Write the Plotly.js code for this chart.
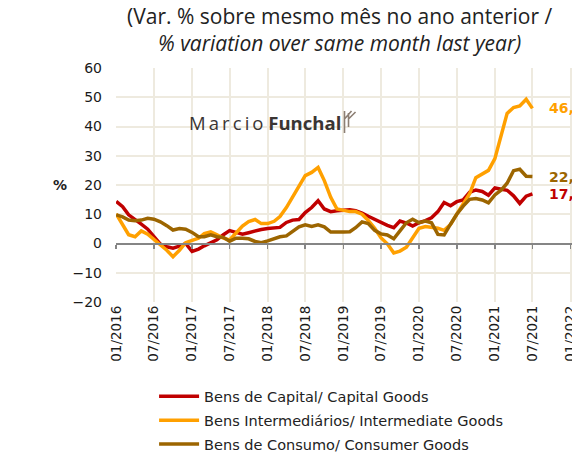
<!DOCTYPE html>
<html>
<head>
<meta charset="utf-8">
<script src="https://cdn.plot.ly/plotly-3.0.1.min.js"></script>
<style>html,body{margin:0;padding:0;background:#fff;}#chart{width:572px;height:453px;}</style>
</head>
<body>
<div id="chart"></div>
<script>
const months = [
"2016-01-01","2016-02-01","2016-03-01","2016-04-01","2016-05-01","2016-06-01","2016-07-01","2016-08-01","2016-09-01","2016-10-01","2016-11-01","2016-12-01",
"2017-01-01","2017-02-01","2017-03-01","2017-04-01","2017-05-01","2017-06-01","2017-07-01","2017-08-01","2017-09-01","2017-10-01","2017-11-01","2017-12-01",
"2018-01-01","2018-02-01","2018-03-01","2018-04-01","2018-05-01","2018-06-01","2018-07-01","2018-08-01","2018-09-01","2018-10-01","2018-11-01","2018-12-01",
"2019-01-01","2019-02-01","2019-03-01","2019-04-01","2019-05-01","2019-06-01","2019-07-01","2019-08-01","2019-09-01","2019-10-01","2019-11-01","2019-12-01",
"2020-01-01","2020-02-01","2020-03-01","2020-04-01","2020-05-01","2020-06-01","2020-07-01","2020-08-01","2020-09-01","2020-10-01","2020-11-01","2020-12-01",
"2021-01-01","2021-02-01","2021-03-01","2021-04-01","2021-05-01","2021-06-01","2021-07-01"];

const capitalGoods = [14.4,12.6,9.8,8.0,6.6,4.9,2.3,-0.2,-1.1,-1.6,-0.9,0.0,
-2.7,-1.9,-0.8,0.3,1.3,3.0,4.4,3.8,3.2,3.7,4.3,4.8,
5.1,5.3,5.5,7.2,8.0,8.2,10.6,12.3,14.6,11.8,10.9,11.2,
11.4,11.5,11.2,10.4,9.3,8.2,7.0,6.2,5.4,7.7,7.0,6.0,
7.1,7.8,8.8,10.9,14.0,12.9,14.3,14.9,17.5,18.3,17.8,16.5,
19.0,18.7,18.2,16.3,13.7,16.2,17.0];

const intermediateGoods = [10.1,6.5,3.0,2.3,4.3,3.2,1.5,-0.2,-2.3,-4.5,-2.3,0.3,
0.9,1.8,3.4,4.0,3.0,1.8,1.2,3.5,6.0,7.5,8.2,6.8,
6.8,7.6,9.2,12.3,16.0,19.8,23.2,24.3,26.0,21.5,15.8,11.8,
11.2,10.9,10.9,10.0,7.9,5.2,2.0,-0.1,-3.2,-2.6,-1.3,1.7,
5.2,5.8,5.6,5.2,4.5,6.5,10.0,13.5,17.0,22.5,23.8,25.0,
29.0,37.0,44.5,46.5,47.0,49.3,46.2];

const consumerGoods = [9.8,9.1,8.0,7.8,8.0,8.6,8.3,7.4,6.1,4.6,5.1,4.9,
3.8,2.3,2.3,3.0,2.3,2.1,0.8,1.8,1.8,1.6,0.7,0.3,
0.9,1.7,2.3,2.6,4.1,5.7,6.4,5.8,6.4,5.7,3.9,3.8,
3.9,4.0,5.4,7.4,6.8,4.5,3.3,2.9,1.6,4.3,7.1,8.3,
7.1,7.7,7.1,3.1,2.9,6.6,10.0,12.8,15.1,15.4,14.9,13.9,
16.6,18.3,20.6,24.9,25.4,23.0,22.9];

const seriesNames = ["Bens de Capital/ Capital Goods","Bens Intermediários/ Intermediate Goods","Bens de Consumo/ Consumer Goods"];
const seriesColors = ["#c00000","#ffa000","#9c6500"];
const tickVals = ["2016-01-01","2016-07-01","2017-01-01","2017-07-01","2018-01-01","2018-07-01","2019-01-01","2019-07-01","2020-01-01","2020-07-01","2021-01-01","2021-07-01","2022-01-01"];
const tickText = ["01/2016","07/2016","01/2017","07/2017","01/2018","07/2018","01/2019","07/2019","01/2020","07/2020","01/2021","07/2021","01/2022"];

const allSeries = [capitalGoods, intermediateGoods, consumerGoods];
const font = "DejaVu Sans, Verdana, sans-serif";
const xRange = ["2015-12-31", "2022-01-08"];

const traces = allSeries.map((vals, i) => ({
  x: months, y: vals, type: "scatter", mode: "lines", name: seriesNames[i],
  line: {color: seriesColors[i], width: 3.5}, legendgroup: "g" + i,
  hoverinfo: "skip"
}));
traces.push({x: [], y: [], xaxis: "x2", type: "scatter", mode: "lines", showlegend: false, hoverinfo: "skip"});

const lastIdx = months.length - 1;
const endLabels = allSeries.map((vals, i) => ({
  x: months[lastIdx], y: vals[lastIdx], xref: "x", yref: "y",
  text: "<b>" + vals[lastIdx].toFixed(1).replace(".", ",") + "</b>",
  showarrow: false, xanchor: "left", yanchor: "middle", xshift: 15,
  font: {family: font, size: 14, color: seriesColors[i]}
}));

const layout = {
  width: 572, height: 453,
  margin: {l: 116, r: 0, t: 68, b: 151, pad: 0, autoexpand: false},
  paper_bgcolor: "#fff", plot_bgcolor: "#fff",
  showlegend: true,
  legend: {x: 0.0835, y: -0.335, xanchor: "left", yanchor: "top", orientation: "v",
    traceorder: "grouped", tracegroupgap: 2, itemwidth: 40,
    font: {family: font, size: 14.5, color: "#222"}, bgcolor: "rgba(0,0,0,0)"},
  xaxis: {type: "date", tickmode: "array", range: xRange, tickvals: tickVals, ticktext: tickText,
    tickangle: -90, showgrid: true, gridcolor: "#eeeadf", gridwidth: 2, zeroline: false, automargin: false,
    ticklabeloverflow: "allow", showline: false, ticks: "",
    tickfont: {family: font, size: 13.5, color: "#1a1a1a"}, fixedrange: true},
  xaxis2: {type: "date", tickmode: "array", overlaying: "x", anchor: "free", position: 0.25, range: xRange,
    tickvals: tickVals, showticklabels: false, ticks: "outside", ticklen: 4, tickwidth: 1.5, tickcolor: "#858585",
    showline: true, linecolor: "#858585", linewidth: 2, showgrid: false, zeroline: false, automargin: false},
  yaxis: {range: [-20, 60], dtick: 10, tick0: 0, showgrid: true, gridcolor: "#eeeadf", gridwidth: 2,
    zeroline: false, showline: false, ticks: "", ticklabelstandoff: 13, automargin: false,
    tickfont: {family: font, size: 14, color: "#1a1a1a"}, fixedrange: true},
  annotations: endLabels.concat([
    {xref: "paper", yref: "y", x: -0.123, y: 20, text: "<b>%</b>", showarrow: false,
      xanchor: "center", yanchor: "middle", font: {family: font, size: 14, color: "#222"}},
    {xref: "paper", yref: "paper", x: 0.492, y: 1.163,
      text: "(Var. % sobre mesmo mês no ano anterior /<br><i>% variation over same month last year)</i>",
      showarrow: false, xanchor: "center", yanchor: "middle", align: "center",
      font: {family: "Open Sans, sans-serif", size: 21, color: "#222"}},
    {xref: "paper", yref: "paper", x: 0.327, y: 0.766, text: "M\u2009a\u2009r\u2009c\u2009i\u2009o <b>Funchal</b>",
      showarrow: false, xanchor: "center", yanchor: "middle",
      font: {family: "Open Sans, sans-serif", size: 18.5, color: "#3a3533"}}
  ]),
  shapes: [
    {type: "rect", xref: "paper", yref: "paper", x0: 0.145, x1: 0.563, y0: 0.714, y1: 0.829,
      fillcolor: "#fff", line: {width: 0}, layer: "between"},
    {type: "path", xref: "paper", yref: "paper", layer: "above",
      path: "M 0.5011 0.8162 L 0.5011 0.7222 M 0.5011 0.7820 L 0.5165 0.8162 M 0.5099 0.8077 L 0.5099 0.7479 M 0.5099 0.7820 L 0.5253 0.8120",
      line: {color: "#8c7f74", width: 1.6}}
  ]
};

Plotly.newPlot("chart", traces, layout, {displayModeBar: false, staticPlot: true});
</script>
</body>
</html>
